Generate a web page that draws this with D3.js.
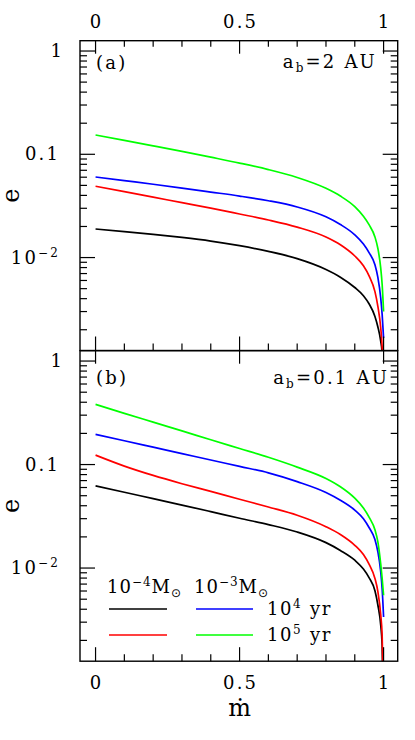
<!DOCTYPE html>
<html><head><meta charset="utf-8">
<script src="https://cdn.jsdelivr.net/npm/d3@7"></script>
<style>
body{margin:0;background:#fff}
svg{display:block}
text{font-family:"DejaVu Serif",serif;fill:#000}
</style>
</head><body>
<svg id="c" width="415" height="740"></svg>
<script>
// ---- data ----
const mdot = [0, 0.1, 0.2, 0.3, 0.4, 0.5, 0.6, 0.7, 0.8, 0.85, 0.9, 0.93, 0.95, 0.97, 0.98, 0.99, 0.995, 1];
// panel (a): a_b = 2 AU
const eA_black = [0.0189, 0.01786, 0.01679, 0.01567, 0.01445, 0.01303, 0.01148, 0.00977, 0.00767, 0.00646, 0.00513, 0.00427, 0.00355, 0.00269, 0.00214, 0.00155, 0.00117, 0.0004];
const eA_red   = [0.049, 0.0435, 0.0385, 0.0340, 0.0301, 0.0264, 0.0231, 0.0197, 0.0158, 0.0133, 0.01035, 0.00832, 0.00661, 0.00468, 0.00339, 0.00209, 0.00135, 0.0005];
const eA_blue  = [0.0603, 0.0556, 0.0513, 0.0471, 0.0431, 0.0394, 0.0355, 0.0309, 0.0248, 0.0209, 0.0166, 0.0135, 0.0111, 0.00851, 0.00646, 0.00407, 0.00282, 0.00166];
const eA_green = [0.1538, 0.1365, 0.1208, 0.1067, 0.0938, 0.0822, 0.0711, 0.0596, 0.0468, 0.0394, 0.0311, 0.0251, 0.0207, 0.01585, 0.0123, 0.00794, 0.0055, 0.0030];
// panel (b): a_b = 0.1 AU
const eB_black = [0.0622, 0.054, 0.0468, 0.0406, 0.0351, 0.0303, 0.0263, 0.0223, 0.0176, 0.0148, 0.0119, 0.00977, 0.00804, 0.00603, 0.00442, 0.00282, 0.00178, 0.0004];
const eB_red   = [0.1233, 0.0966, 0.0785, 0.0653, 0.0550, 0.0462, 0.0389, 0.0324, 0.0251, 0.0211, 0.0166, 0.0135, 0.01084, 0.00794, 0.00596, 0.00355, 0.00224, 0.0005];
const eB_blue  = [0.1954, 0.1698, 0.1472, 0.1276, 0.1107, 0.0959, 0.0832, 0.0684, 0.0537, 0.0452, 0.0363, 0.0299, 0.0245, 0.01884, 0.01445, 0.00923, 0.00631, 0.00337];
const eB_green = [0.381, 0.3126, 0.257, 0.2113, 0.1738, 0.1429, 0.1175, 0.0944, 0.0733, 0.061, 0.0473, 0.038, 0.0309, 0.02344, 0.018, 0.01096, 0.00794, 0.00546];

const xMajor = [0, 0.5, 1];
const xMajorLabels = ["0", "0.5", "1"];
const xMinor = [0.1, 0.2, 0.3, 0.4, 0.6, 0.7, 0.8, 0.9];
const yMajor = [1, 0.1, 0.01];
const yMajorLabels = [{b:"1"}, {b:"0.1"}, {b:"10", s:"\u22122"}];
const seriesColors = ["#000000", "#ff0000", "#0000ff", "#00ff00"];

// ---- drawing ----
const svg = d3.select("#c");
const X0 = 80, X1 = 397.7;
const x = d3.scaleLinear().domain([-0.054, 1.049]).range([X0, X1]);
const yDom = [Math.pow(10, -2.9), Math.pow(10, 0.1)];

const panels = [
  {id:"a", top:40.7, bottom:350.5, data:[eA_black, eA_red, eA_blue, eA_green],
   tag:"(a)", tagBase:69, ab:"2", abRight:377, abBase:68, topMinor:true, topLabels:true},
  {id:"b", top:350.7, bottom:661.2, data:[eB_black, eB_red, eB_blue, eB_green],
   tag:"(b)", tagBase:384, ab:"0.1", abRight:389, abBase:384, topMinor:false, topLabels:false}
];

const FS = 18;
const LSn = 2.2;
const LS = LSn + "px";
const SUP = 12;

panels.forEach(p => {
  const y = d3.scaleLog().domain(yDom).range([p.bottom, p.top]);
  const g = svg.append("g");

  const cid = "clip" + p.id;
  svg.append("clipPath").attr("id", cid).append("rect")
    .attr("x", X0).attr("y", p.top).attr("width", X1 - X0).attr("height", p.bottom - p.top);

  // curves
  const line = d3.line().x((d, i) => x(mdot[i])).y(d => y(d)).curve(d3.curveMonotoneX);
  const cg = g.append("g").attr("clip-path", `url(#${cid})`);
  p.data.forEach((arr, k) => {
    cg.append("path").attr("d", line(arr)).attr("fill", "none")
      .attr("stroke", seriesColors[k]).attr("stroke-width", 1.7);
  });

  // frame
  g.append("rect").attr("x", X0).attr("y", p.top).attr("width", X1 - X0).attr("height", p.bottom - p.top)
    .attr("fill", "none").attr("stroke", "#000").attr("stroke-width", 1.4);

  const tk = g.append("g").attr("stroke", "#000").attr("stroke-width", 1.2);
  xMajor.forEach(v => tk.append("line").attr("x1", x(v)).attr("x2", x(v)).attr("y1", p.bottom).attr("y2", p.bottom - 14));
  xMinor.forEach(v => tk.append("line").attr("x1", x(v)).attr("x2", x(v)).attr("y1", p.bottom).attr("y2", p.bottom - 7));
  xMajor.forEach(v => tk.append("line").attr("x1", x(v)).attr("x2", x(v)).attr("y1", p.top).attr("y2", p.top + 13));
  if (p.topMinor) xMinor.forEach(v => tk.append("line").attr("x1", x(v)).attr("x2", x(v)).attr("y1", p.top).attr("y2", p.top + 6));

  // y ticks (log)
  const yt = [];
  for (let d = -3; d <= 0; d++) for (let k = 1; k <= 9; k++) {
    const v = k * Math.pow(10, d);
    if (v >= yDom[0] && v <= yDom[1]) yt.push({v, major: k === 1});
  }
  yt.forEach(t => {
    const L = t.major ? 15 : 7;
    tk.append("line").attr("x1", X0).attr("x2", X0 + L).attr("y1", y(t.v)).attr("y2", y(t.v));
    tk.append("line").attr("x1", X1).attr("x2", X1 - L).attr("y1", y(t.v)).attr("y2", y(t.v));
  });

  // y labels
  yMajor.forEach((v, i) => {
    const lab = yMajorLabels[i];
    const t = g.append("text").attr("x", 58 + LSn + (i === 0 ? 4 : 0)).attr("y", y(v) + 6).attr("text-anchor", "end")
      .attr("font-size", FS).attr("letter-spacing", LS);
    t.append("tspan").text(lab.b);
    if (lab.s) t.append("tspan").attr("font-size", SUP).attr("dy", -7).text(lab.s);
  });

  // y axis title
  const cy = (p.top + p.bottom) / 2;
  g.append("text").attr("transform", `translate(19,${cy}) rotate(-90)`).attr("text-anchor", "middle")
    .attr("font-size", 24).text("e");

  // panel tag
  g.append("text").attr("x", 96).attr("y", p.tagBase).attr("font-size", FS).attr("letter-spacing", LS).text(p.tag);
  // a_b label
  const ab = g.append("text").attr("x", p.abRight).attr("y", p.abBase).attr("text-anchor", "end")
    .attr("font-size", FS).attr("letter-spacing", LS);
  ab.append("tspan").text("a");
  ab.append("tspan").attr("font-size", SUP).attr("dy", 4).text("b");
  ab.append("tspan").attr("dy", -4).text("=" + p.ab + "\u00A0AU");

  if (p.topLabels) {
    xMajor.forEach((v, i) => g.append("text").attr("x", x(v) + LSn / 2).attr("y", 28).attr("text-anchor", "middle")
      .attr("font-size", FS).attr("letter-spacing", LS).text(xMajorLabels[i]));
  }
});

// bottom labels
xMajor.forEach((v, i) => svg.append("text").attr("x", x(v) + LSn / 2).attr("y", 689).attr("text-anchor", "middle")
  .attr("font-size", FS).attr("letter-spacing", LS).text(xMajorLabels[i]));
svg.append("text").attr("x", x(0.5)).attr("y", 716).attr("text-anchor", "middle").attr("font-size", 24).text("\u1E41");

// legend
const legMass = [{t:"\u22124", x:107}, {t:"\u22123", x:194}];
const legAge = [{t:"4", y:615}, {t:"5", y:641}];
legMass.forEach(m => {
  const t = svg.append("text").attr("x", m.x).attr("y", 593).attr("font-size", FS).attr("letter-spacing", "1px");
  t.append("tspan").text("10");
  t.append("tspan").attr("font-size", SUP).attr("dy", -7).text(m.t);
  t.append("tspan").attr("dy", 7).text("M");
  t.append("tspan").attr("font-size", SUP).attr("dy", 4).style("font-family", "DejaVu Sans").text("\u2299");
});
legAge.forEach(a => {
  const t = svg.append("text").attr("x", 267).attr("y", a.y).attr("font-size", FS).attr("letter-spacing", "1.5px");
  t.append("tspan").text("10");
  t.append("tspan").attr("font-size", SUP).attr("dy", -7).text(a.t);
  t.append("tspan").attr("dy", 7).attr("dx", 8).text("yr");
});
const legLines = [
  {c:0, x1:109, x2:167, y:609},
  {c:2, x1:196, x2:253, y:609},
  {c:1, x1:109, x2:167, y:635},
  {c:3, x1:196, x2:253, y:635}
];
legLines.forEach(l => svg.append("line").attr("x1", l.x1).attr("x2", l.x2).attr("y1", l.y).attr("y2", l.y)
  .attr("stroke", seriesColors[l.c]).attr("stroke-width", 1.7));
</script>
</body></html>
